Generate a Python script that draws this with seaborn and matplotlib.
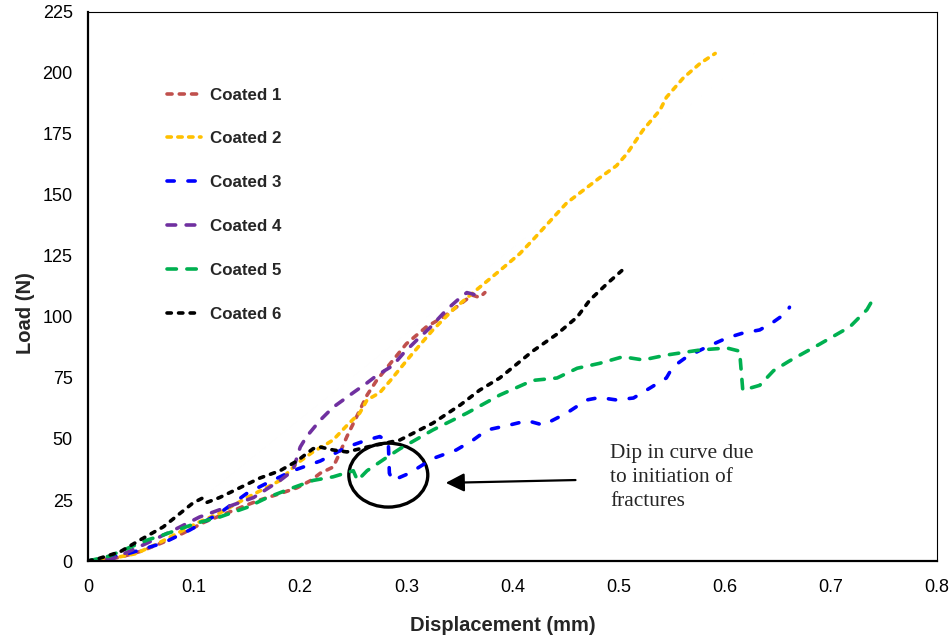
import seaborn as sns
import matplotlib.pyplot as plt
from matplotlib.patches import Ellipse
import pandas as pd

# Load-displacement readings for the six coated samples
c1_x = [0, 0.01, 0.03, 0.05, 0.07, 0.09, 0.11, 0.13, 0.15, 0.162, 0.18, 0.197, 0.21, 0.219, 0.231, 0.237,
        0.244, 0.253, 0.263, 0.272, 0.285, 0.300, 0.319, 0.335, 0.353, 0.362, 0.369, 0.374]
c1_y = [0, 0.5, 1.5, 4, 7.5, 11.5, 16, 19.5, 23, 25, 27.5, 30, 33, 36, 38.5, 44,
        51, 59, 68, 74, 81, 89, 96, 100, 106, 109, 108, 110]

c2_x = [0, 0.024, 0.045, 0.065, 0.087, 0.105, 0.124, 0.150, 0.181, 0.197, 0.212, 0.225, 0.231, 0.245, 0.256,
        0.263, 0.275, 0.285, 0.303, 0.325, 0.344, 0.363, 0.388, 0.407, 0.419, 0.451, 0.482, 0.498, 0.508,
        0.523, 0.539, 0.545, 0.561, 0.577, 0.591]
c2_y = [0, 1.2, 3, 7, 12, 16, 19.6, 26, 33, 40, 44.7, 48, 49.6, 56, 60.6,
        66, 69, 74, 83.6, 94.7, 103, 110, 119, 126, 131.5, 146.7, 157, 162, 167,
        176.6, 184.8, 190, 198, 204, 208]

c3_x = [0, 0.02, 0.04, 0.071, 0.096, 0.124, 0.150, 0.169, 0.193, 0.219, 0.244, 0.263, 0.275, 0.283, 0.284,
        0.287, 0.303, 0.325, 0.347, 0.363, 0.376, 0.395, 0.414, 0.429, 0.451, 0.470, 0.482, 0.498, 0.514,
        0.530, 0.545, 0.551, 0.564, 0.583, 0.602, 0.617, 0.633, 0.646, 0.659, 0.661]
c3_y = [0, 1.5, 3.3, 7.4, 12.7, 19.6, 27.8, 32, 37, 41, 46.7, 49.6, 51, 49, 36,
        33, 36, 42, 45.5, 49.6, 53.7, 55.5, 57.5, 55.7, 60.6, 66, 67, 66, 66.8,
        71, 75, 79.5, 83.6, 87.7, 91.4, 93.4, 94.7, 98, 102, 104]

c4_x = [0, 0.024, 0.056, 0.087, 0.105, 0.124, 0.156, 0.181, 0.193, 0.200, 0.206, 0.219, 0.231, 0.250, 0.263,
        0.272, 0.287, 0.297, 0.310, 0.322, 0.338, 0.351, 0.357, 0.366]
c4_y = [0, 1, 7.4, 14, 18, 21, 26, 33, 37, 46.7, 51, 57.8, 63, 69, 73,
        76, 80, 85, 90.6, 95.5, 103, 108, 110, 109]

c5_x = [0, 0.02, 0.040, 0.056, 0.071, 0.103, 0.124, 0.150, 0.169, 0.193, 0.212, 0.231, 0.250, 0.254, 0.263,
        0.282, 0.294, 0.325, 0.357, 0.388, 0.419, 0.442, 0.461, 0.482, 0.504, 0.523, 0.545, 0.577, 0.602,
        0.614, 0.617, 0.633, 0.646, 0.661, 0.690, 0.718, 0.734, 0.742]
c5_y = [0, 2, 5.7, 8.6, 10.7, 15.6, 18, 22, 26, 30, 33, 34.5, 37, 33, 37,
        42.6, 46, 53.7, 60.6, 68, 74, 75, 79, 81, 83.7, 82.4, 84.4, 86.5, 87.3,
        86, 70, 72, 78, 82, 89, 96, 103, 109]

c6_x = [0, 0.01, 0.030, 0.049, 0.071, 0.087, 0.099, 0.108, 0.112, 0.124, 0.143, 0.162, 0.181, 0.197, 0.212,
        0.219, 0.231, 0.244, 0.263, 0.294, 0.325, 0.351, 0.369, 0.388, 0.419, 0.442, 0.461, 0.473, 0.490, 0.503]
c6_y = [0, 1, 3.7, 8.6, 14, 19.6, 23.8, 25.8, 24, 26, 30, 34, 37, 41, 46,
        46.7, 45.5, 44.7, 46.7, 49.6, 56.5, 64, 70, 75, 86, 93, 100, 107, 114, 119]

labels = ['Coated 1', 'Coated 2', 'Coated 3', 'Coated 4', 'Coated 5', 'Coated 6']
colors = ['#C0504D', '#FFC000', '#0000FF', '#7030A0', '#00B050', '#000000']
dashes = [(1.4, 2.0), (1.2, 1.8), (2.0, 3.8), (2.4, 2.9), (2.6, 2.9), (1.2, 2.0)]

x_ticks = [0, 0.1, 0.2, 0.3, 0.4, 0.5, 0.6, 0.7, 0.8]
x_tick_labels = ['0', '0.1', '0.2', '0.3', '0.4', '0.5', '0.6', '0.7', '0.8']
y_ticks = [0, 25, 50, 75, 100, 125, 150, 175, 200, 225]

series = [(c1_x, c1_y), (c2_x, c2_y), (c3_x, c3_y), (c4_x, c4_y), (c5_x, c5_y), (c6_x, c6_y)]

sns.set_style('white')
plt.rcParams['font.family'] = ['Liberation Sans', 'DejaVu Sans']

fig, ax = plt.subplots(figsize=(9.53, 6.37), dpi=100)
fig.subplots_adjust(left=0.0923, right=0.9832, top=0.9812, bottom=0.1193)

for (xs, ys), lab, col, dsh in zip(series, labels, colors, dashes):
    df = pd.DataFrame({'x': xs, 'y': ys})
    sns.lineplot(data=df, x='x', y='y', sort=False, estimator=None, ax=ax,
                 color=col, linewidth=2.6, linestyle=(0, dsh), label=lab,
                 dash_capstyle='round')

ax.set_xlim(0, 0.8)
ax.set_ylim(0, 225)
ax.set_xticks(x_ticks)
ax.set_xticklabels(x_tick_labels)
ax.set_yticks(y_ticks)
ax.set_xticks([i * 0.02 for i in range(41)], minor=True)
ax.set_yticks(list(range(0, 226, 5)), minor=True)
ax.tick_params(which='major', direction='in', length=4, width=1, colors='black', labelsize=13)
ax.tick_params(axis='x', which='major', pad=13)
ax.tick_params(axis='y', which='major', pad=11)
ax.tick_params(which='minor', direction='in', length=2.5, width=0.8, colors='black')

for side in ['left', 'bottom']:
    ax.spines[side].set_linewidth(1.6)
    ax.spines[side].set_color('black')
for side in ['top', 'right']:
    ax.spines[side].set_linewidth(0.8)
    ax.spines[side].set_color('black')

ax.set_xlabel('Displacement (mm)', fontsize=14.5, fontweight='bold')
ax.set_ylabel('Load (N)', fontsize=14.5, fontweight='bold')
ax.xaxis.set_label_coords(0.489, -0.10)
ax.yaxis.set_label_coords(-0.062, 0.452)

leg = ax.legend(loc='upper left', bbox_to_anchor=(0.075, 0.89), frameon=False,
                prop={'weight': 'bold', 'size': 12.2}, labelspacing=1.70,
                handlelength=2.0, handletextpad=0.55)

# annotation for the dip
ax.add_patch(Ellipse((0.283, 35.2), 0.0744, 26.2, fill=False, edgecolor='black', linewidth=2.4))
ax.annotate('', xy=(0.3345, 32), xytext=(0.462, 33.2),
            arrowprops=dict(arrowstyle='-|>', color='black', lw=1.6, mutation_scale=28))
ax.text(0.492, 48, 'Dip in curve due\nto initiation of\nfractures', fontsize=15.4,
        family=['Liberation Serif', 'DejaVu Serif'], va='top', ha='left', linespacing=1.36)

plt.savefig('out.png', dpi=100)
